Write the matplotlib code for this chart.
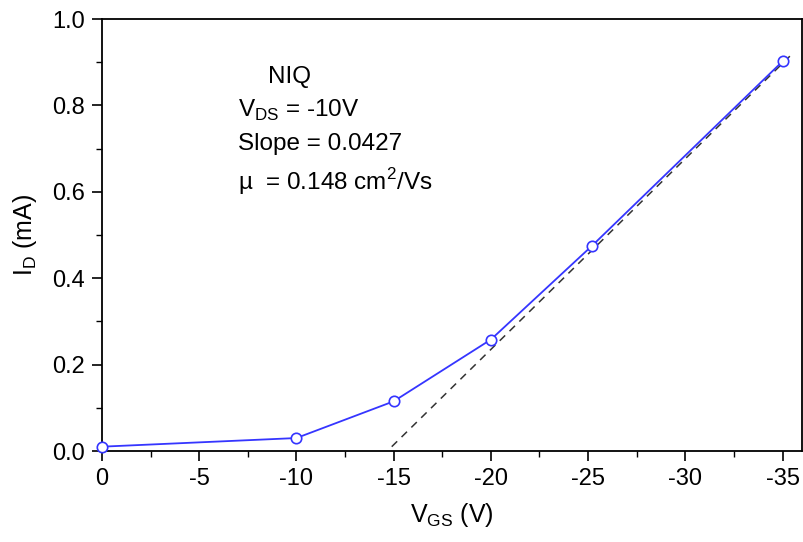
import matplotlib
matplotlib.use("Agg")
import matplotlib.pyplot as plt
from matplotlib.ticker import MultipleLocator

plt.rcParams['font.family'] = ['Liberation Sans', 'DejaVu Sans']

vgs = [0, -10, -15, -20, -25.2, -35]
id_ma = [0.01, 0.03, 0.115, 0.258, 0.475, 0.902]
fit_x = [-14.9, -35.4]
fit_y = [0.01, 0.915]

fig = plt.figure(figsize=(8.04, 5.42), dpi=100)
ax = fig.add_axes([102/804, 1 - 451/542, 700/804, 432/542])

ax.plot(fit_x, fit_y, color='#333333', ls=(0, (5, 4)), lw=1.1, zorder=2)
ax.plot(vgs, id_ma, color='#3535ff', lw=1.3, marker='o', markersize=7.5,
        markerfacecolor='white', markeredgecolor='#3535ff', markeredgewidth=1.2, zorder=3, clip_on=False)

ax.set_xlim(0, -36)
ax.set_ylim(0, 1.0)
ax.xaxis.set_minor_locator(MultipleLocator(2.5))
ax.yaxis.set_minor_locator(MultipleLocator(0.1))
ax.set_xticks([0, -5, -10, -15, -20, -25, -30, -35])
ax.set_xticklabels(['0', '-5', '-10', '-15', '-20', '-25', '-30', '-35'])
ax.set_yticks([0, 0.2, 0.4, 0.6, 0.8, 1.0])
ax.set_yticklabels(['0.0', '0.2', '0.4', '0.6', '0.8', '1.0'])
ax.tick_params(which='major', direction='out', length=7, width=1.2, labelsize=17, pad=5)
ax.tick_params(which='minor', direction='out', length=4.5, width=1.0)
for s in ax.spines.values():
    s.set_linewidth(1.3)

ax.set_xlabel(r'V$_{\mathregular{GS}}$ (V)', fontsize=18, labelpad=8)
ax.set_ylabel(r'I$_{\mathregular{D}}$ (mA)', fontsize=18, labelpad=10)

fs = 17.5
ax.text(0.237, 0.852, 'NIQ', transform=ax.transAxes, fontsize=fs, va='baseline')
ax.text(0.194, 0.773, r'V$_{\mathregular{DS}}$ = -10V', transform=ax.transAxes, fontsize=fs, va='baseline')
ax.text(0.194, 0.697, 'Slope = 0.0427', transform=ax.transAxes, fontsize=fs, va='baseline')
ax.text(0.194, 0.604, r'µ  = 0.148 cm$^{\mathregular{2}}$/Vs', transform=ax.transAxes, fontsize=fs, va='baseline')

fig.savefig('out.png', dpi=100)
